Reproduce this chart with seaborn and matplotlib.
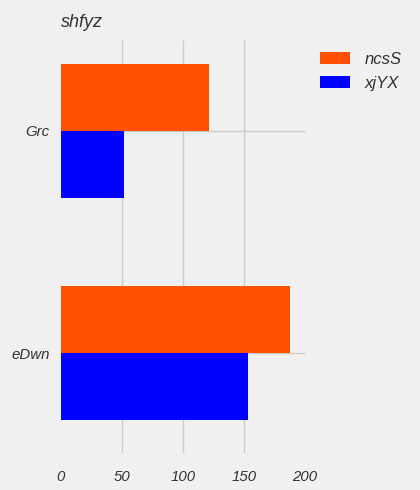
import pandas as pd
import seaborn as sns
import matplotlib.pyplot as plt

categories = ["Grc", "eDwn"]
series = ["ncsS", "xjYX"]
ncsS = [121, 188]
xjYX = [52, 153]
colors = ["#ff5000", "#0000ff"]

data = pd.DataFrame({
    "cat": categories * 2,
    "series": [series[0]] * 2 + [series[1]] * 2,
    "value": ncsS + xjYX,
})

plt.style.use("fivethirtyeight")
plt.rcParams["font.family"] = ["Liberation Sans", "DejaVu Sans"]
plt.rcParams["font.style"] = "italic"

fig = plt.figure(figsize=(4.2, 4.9), dpi=100)
fig.patch.set_facecolor("#f0f0f0")
ax = fig.add_axes([0.145, 0.0755, 0.581, 0.843])
ax.set_facecolor("#f0f0f0")

sns.barplot(data=data, y="cat", x="value", hue="series", orient="h",
            palette=colors, width=0.6, saturation=1, ax=ax, zorder=2)

ax.set_xlim(0, 200)
ax.set_ylim(1.45, -0.41)
ax.set_xticks([0, 50, 100, 150, 200])
ax.grid(True, color="#cbcbcb", linewidth=1, zorder=0)
ax.set_axisbelow(True)
# no grid line on the 0 and 200 edges
xgl = ax.get_xgridlines()
xgl[0].set_visible(False)
xgl[-1].set_visible(False)
for s in ax.spines.values():
    s.set_visible(False)
ax.tick_params(length=0, labelsize=10.8, colors="#333333")
ax.tick_params(axis="x", pad=12)
ax.tick_params(axis="y", pad=8)
ax.set_xlabel("")
ax.set_ylabel("")
ax.set_title("shfyz", loc="left", fontsize=13, color="#333333", pad=9)

ax.legend(loc="upper left", bbox_to_anchor=(1.0, 1.008), frameon=False,
          fontsize=12, handlelength=1.8, handleheight=0.75, labelspacing=0.55,
          handletextpad=0.9, labelcolor="#333333")

fig.savefig("out.png", dpi=100, facecolor=fig.get_facecolor())
